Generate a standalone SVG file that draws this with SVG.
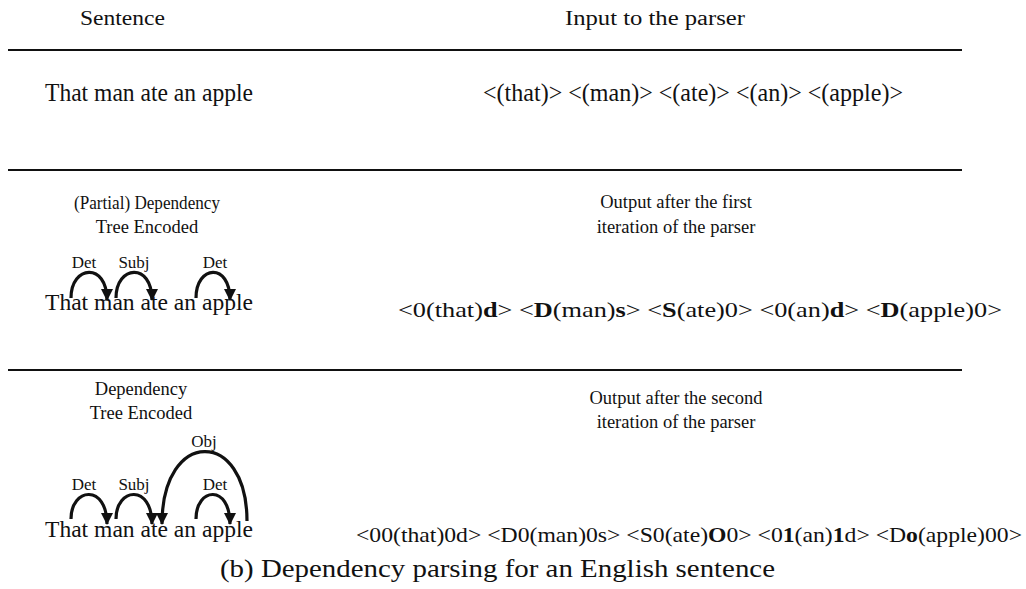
<svg xmlns="http://www.w3.org/2000/svg" width="1026" height="589" viewBox="0 0 1026 589">
<style>
text{font-family:"Liberation Serif","Times New Roman",serif;fill:#111}
.hc{font-size:20px}
.s{font-size:24px}
.sc{font-size:25px}
.l{font-size:17px;text-anchor:middle}
.c{font-size:22px}
.o{font-size:18.5px;text-anchor:middle}
.rule{stroke:#111;stroke-width:2}
.arc{fill:none;stroke:#111;stroke-width:3.2}
.b{font-weight:bold}
</style>
<defs>
<marker id="ah" viewBox="0 0 12 12" refX="11" refY="6" markerWidth="13" markerHeight="12" orient="auto" markerUnits="userSpaceOnUse">
<path d="M0,0 L12,6 L0,12 Z" fill="#111"/>
</marker>
</defs>
<rect width="1026" height="589" fill="#fff"/>
<g id="rules">
<line class="rule" x1="8" y1="50" x2="962" y2="50"/>
<line class="rule" x1="8" y1="170" x2="962" y2="170"/>
<line class="rule" x1="8" y1="370" x2="962" y2="370"/>
</g>
<g id="header">
<text class="hc" x="80" y="25" textLength="85" lengthAdjust="spacingAndGlyphs">Sentence</text>
<text class="hc" x="565" y="25" textLength="180" lengthAdjust="spacingAndGlyphs">Input to the parser</text>
</g>
<g id="row1">
<text class="sc" x="45" y="101" textLength="208" lengthAdjust="spacingAndGlyphs">That man ate an apple</text>
<text class="sc" x="483" y="101" textLength="420" lengthAdjust="spacingAndGlyphs">&lt;(that)&gt; &lt;(man)&gt; &lt;(ate)&gt; &lt;(an)&gt; &lt;(apple)&gt;</text>
</g>
<g id="row2">
<text class="o" x="147" y="209" textLength="146" lengthAdjust="spacingAndGlyphs">(Partial) Dependency</text>
<text class="o" x="147" y="233">Tree Encoded</text>
<text class="l" x="84" y="268">Det</text>
<text class="l" x="134" y="268">Subj</text>
<text class="l" x="215" y="268">Det</text>
<text class="s" x="45" y="310" textLength="208" lengthAdjust="spacingAndGlyphs">That man ate an apple</text>
<text class="o" x="676" y="208">Output after the first</text>
<text class="o" x="676" y="233">iteration of the parser</text>
<text class="c" x="398" y="317" textLength="604" lengthAdjust="spacingAndGlyphs">&lt;0(that)<tspan class="b">d</tspan>&gt; &lt;<tspan class="b">D</tspan>(man)<tspan class="b">s</tspan>&gt; &lt;<tspan class="b">S</tspan>(ate)0&gt; &lt;0(an)<tspan class="b">d</tspan>&gt; &lt;<tspan class="b">D</tspan>(apple)0&gt;</text>
</g>
<g id="row3">
<text class="o" x="141" y="395">Dependency</text>
<text class="o" x="141" y="419">Tree Encoded</text>
<text class="l" x="204" y="447">Obj</text>
<text class="l" x="84" y="490">Det</text>
<text class="l" x="134" y="490">Subj</text>
<text class="l" x="215" y="490">Det</text>
<text class="s" x="45" y="537" textLength="208" lengthAdjust="spacingAndGlyphs">That man ate an apple</text>
<text class="o" x="676" y="404">Output after the second</text>
<text class="o" x="676" y="428">iteration of the parser</text>
<text class="c" x="356" y="542" textLength="666" lengthAdjust="spacingAndGlyphs">&lt;00(that)0d&gt; &lt;D0(man)0s&gt; &lt;S0(ate)<tspan class="b">O</tspan>0&gt; &lt;0<tspan class="b">1</tspan>(an)<tspan class="b">1</tspan>d&gt; &lt;D<tspan class="b">o</tspan>(apple)00&gt;</text>
</g>
<g id="connectors">
<path class="arc" d="M71,298 C71,265 107,262 107,300" marker-end="url(#ah)"/>
<path class="arc" d="M116,298 C116,265 152,262 152,300" marker-end="url(#ah)"/>
<path class="arc" d="M196,298 C196,265 230,262 230,300" marker-end="url(#ah)"/>
<path class="arc" d="M71,519 C71,487 107,484 107,524" marker-end="url(#ah)"/>
<path class="arc" d="M116,519 C116,487 152,484 152,524" marker-end="url(#ah)"/>
<path class="arc" d="M196,519 C196,487 230,484 230,524" marker-end="url(#ah)"/>
<path class="arc" d="M247,521 C247,428 162,428 162,524" marker-end="url(#ah)"/>
</g>
<g id="caption">
<text class="sc" x="220" y="577" textLength="555" lengthAdjust="spacingAndGlyphs">(b) Dependency parsing for an English sentence</text>
</g>
</svg>
